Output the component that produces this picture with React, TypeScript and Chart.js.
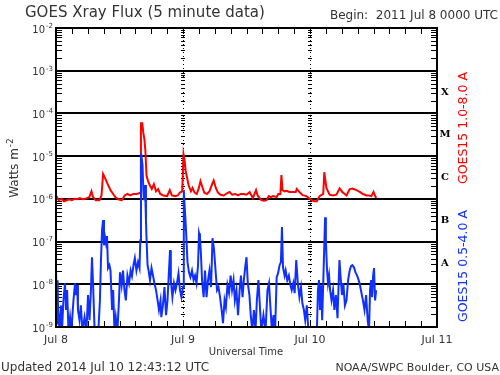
import React, { useEffect, useRef } from 'react';
import { Chart, registerables } from 'chart.js';

Chart.register(...registerables);

// ---- Data (hours since 2011 Jul 8 00:00 UTC, flux in W m^-2) ----
const redHours = [0,0.5,1,1.5,2,2.5,3,3.5,4,4.5,5,5.5,6.3,6.7,7.0,7.5,8.2,8.6,8.9,9.3,9.7,10.3,10.8,11.2,11.8,12.4,13,13.5,14,14.6,15.2,15.7,15.95,16.05,16.3,16.5,16.7,16.9,17.1,17.4,17.7,18.1,18.5,18.9,19.3,19.7,20.3,21,21.5,21.9,22.5,23,23.4,23.85,24.1,24.3,24.5,24.8,25.1,25.5,25.8,26.2,26.6,27.0,27.3,27.6,28.0,28.5,29.0,29.5,29.8,30.2,30.6,31.1,31.7,32.3,32.8,33.3,33.9,34.4,34.9,35.5,36.0,36.6,37.2,37.8,38.1,38.5,38.8,39.3,39.8,40.2,40.6,41.0,41.7,42.0,42.4,42.6,42.8,43.2,43.6,44.1,44.7,45.3,45.5,46.0,46.6,47.3,47.8,48.3,48.8,49.3,49.8,50.5,50.7,51.1,51.7,52.3,53.0,53.6,54.1,54.9,55.5,56.0,56.8,57.4,58.0,58.7,59.2,59.6,60.0,60.4,60.6];
const redFlux = [1.2e-6,9.3e-7,1.0e-6,8.8e-7,9.3e-7,9.8e-7,9.3e-7,1.0e-6,9.8e-7,1.04e-6,9.8e-7,1.0e-6,1.1e-6,1.5e-6,1.1e-6,9.3e-7,9.3e-7,1.2e-6,3.8e-6,3.0e-6,2.3e-6,1.6e-6,1.3e-6,1.1e-6,9.8e-7,9.3e-7,1.2e-6,1.3e-6,1.2e-6,1.3e-6,1.3e-6,1.35e-6,1.4e-6,5.9e-5,5.9e-5,3.5e-5,2.5e-5,1.3e-5,3.5e-6,2.6e-6,2.1e-6,1.7e-6,2.2e-6,1.5e-6,1.7e-6,1.3e-6,1.2e-6,1.16e-6,1.6e-6,1.2e-6,1.16e-6,1.2e-6,1.4e-6,1.5e-6,1.1e-5,8e-6,4.5e-6,3e-6,2e-6,1.5e-6,1.8e-6,1.4e-6,1.3e-6,1.8e-6,2.6e-6,2.0e-6,1.4e-6,1.3e-6,1.5e-6,2.2e-6,2.7e-6,1.8e-6,1.4e-6,1.25e-6,1.2e-6,1.35e-6,1.45e-6,1.25e-6,1.3e-6,1.2e-6,1.3e-6,1.3e-6,1.25e-6,1.45e-6,1.04e-6,1.6e-6,1.2e-6,1.04e-6,9.3e-7,9.0e-7,9.3e-7,1.16e-6,1.1e-6,1.16e-6,1.1e-6,1.3e-6,1.3e-6,3.6e-6,1.6e-6,1.5e-6,1.55e-6,1.45e-6,1.45e-6,1.45e-6,1.7e-6,1.44e-6,1.22e-6,1.16e-6,1.04e-6,9.3e-7,8.8e-7,8.8e-7,1.16e-6,1.3e-6,4.2e-6,1.8e-6,1.25e-6,1.2e-6,1.25e-6,1.75e-6,1.45e-6,1.2e-6,1.7e-6,1.75e-6,1.6e-6,1.45e-6,1.3e-6,1.2e-6,1.2e-6,1.16e-6,1.45e-6,1.1e-6,1.1e-6];

const blueHours = [0.0,0.2,0.3,0.4,0.66,0.95,1.13,1.4,1.7,1.9,2.1,2.36,2.65,2.9,3.3,3.6,3.8,4.0,4.15,4.44,4.7,5.0,5.4,5.76,6.05,6.33,6.6,6.8,7.0,7.3,7.65,8.0,8.3,8.5,8.7,8.9,9.07,9.26,9.45,9.64,9.83,10.1,10.3,10.6,10.8,11.05,11.3,11.6,11.9,12.1,12.4,12.66,12.94,13.2,13.5,13.8,14.1,14.36,14.64,14.9,15.2,15.5,15.78,15.93,16.06,16.2,16.35,16.5,16.63,16.82,17.0,17.1,17.3,17.5,17.76,18.05,18.33,18.6,18.9,19.2,19.46,19.75,19.9,20.2,20.5,20.8,21.07,21.35,21.55,21.7,22.0,22.3,22.58,22.86,23.15,23.43,23.7,24.0,24.15,24.28,24.47,24.66,24.85,25.13,25.4,25.7,26.0,26.27,26.55,26.84,27.03,27.2,27.4,27.6,27.9,28.16,28.45,28.73,29.0,29.3,29.58,29.87,30.15,30.43,30.7,31.0,31.3,31.56,31.85,32.1,32.4,32.7,33.0,33.27,33.55,33.8,34.1,34.4,34.7,34.95,35.25,35.5,35.8,36.0,36.25,36.55,36.8,37.1,37.4,37.7,37.96,38.25,38.5,38.8,39.2,39.6,39.96,40.25,40.5,40.8,41.1,41.4,41.7,41.96,42.25,42.5,42.7,42.9,43.2,43.4,43.7,44.0,44.3,44.55,44.85,45.1,45.4,45.7,46.0,46.3,46.56,46.85,47.1,47.4,47.7,48.1,48.5,48.85,49.3,49.5,49.7,49.9,50.1,50.3,50.5,50.65,50.85,51.0,51.2,51.4,51.6,51.8,52.07,52.36,52.6,52.9,53.2,53.4,53.57,53.76,54.05,54.3,54.6,54.9,55.2,55.5,55.75,56.0,56.3,56.6,56.9,57.2,57.45,57.7,58.0,58.3,58.6,58.9,59.15,59.35,59.55,59.74,59.93,60.1,60.3,60.5];
const blueFlux = [2.4e-8,1.2e-9,1.25e-8,2.5e-9,8e-10,3.2e-9,8e-10,4.2e-9,1.06e-8,2.5e-9,7.3e-9,8e-10,1.7e-9,8e-10,4.2e-9,1.06e-8,5.6e-9,9.6e-9,2.5e-9,1.44e-9,3.2e-9,8e-10,1.7e-9,8e-10,5.6e-9,1.44e-9,7.3e-9,4.3e-8,1.06e-8,8e-10,8e-10,8e-10,4.2e-9,3.7e-8,1.85e-7,3.2e-7,8.2e-8,1.27e-7,9.2e-8,1.34e-7,2.4e-8,2.8e-8,2.1e-8,2.5e-9,7.3e-9,8e-10,1.7e-9,8e-10,4.2e-9,1.9e-8,9.5e-9,2.1e-8,7.3e-9,4.2e-9,1.6e-8,1.06e-8,2.1e-8,1.55e-8,2.8e-8,4.1e-8,2.1e-8,3.3e-8,2.4e-8,1.08e-7,1.17e-5,9e-6,6.1e-6,1.6e-6,9.3e-7,2.1e-6,3.2e-7,1.27e-7,2.8e-8,2.1e-8,1.25e-8,2.4e-8,1.6e-8,1.06e-8,7.3e-9,4.2e-9,2.5e-9,4.2e-9,1.7e-9,3.2e-9,8.6e-9,1.9e-9,4.2e-9,2.1e-8,6.3e-8,1.25e-8,5e-9,1.06e-8,7.3e-9,1.06e-8,1.8e-8,7.3e-9,5e-9,8.6e-9,1.6e-6,7.9e-7,3.2e-7,1.08e-7,3.3e-8,1.9e-8,1.47e-8,2.1e-8,1.25e-8,1.6e-8,1.06e-8,2.8e-8,1.57e-7,1.27e-7,4.8e-8,1.25e-8,5e-9,2.1e-8,5e-9,1.25e-8,2.1e-8,8.6e-9,1.2e-7,6.3e-8,2.1e-8,7.3e-9,8.6e-9,5e-9,2.5e-9,1.23e-9,4.2e-9,2.9e-9,9.5e-9,6.2e-9,1.6e-8,7.3e-9,1.25e-8,4.2e-9,7.3e-9,1.9e-9,7.3e-9,1.6e-8,5e-9,1.25e-8,2.8e-8,4.3e-8,1.06e-8,5.6e-9,1.9e-9,8e-10,2.5e-9,8e-10,4.2e-9,1.25e-8,3.6e-9,8e-10,1.9e-9,8e-10,7.3e-9,1.06e-8,3.2e-9,8e-10,1.9e-9,8e-10,1.47e-8,1.8e-8,2.8e-8,3.3e-8,2.2e-7,2.5e-8,1.6e-8,2.1e-8,1.25e-8,1.6e-8,9.5e-9,7.3e-9,1.06e-8,6.2e-9,3.7e-8,1.06e-8,5e-9,8.6e-9,3.6e-9,2.5e-9,1.44e-9,3.2e-9,8e-10,8e-10,8e-10,8e-10,8e-10,7.3e-9,1.25e-8,2.5e-9,9.5e-9,1.44e-9,1.06e-8,4.8e-8,3.7e-7,1.08e-7,2.4e-8,1.06e-8,1.6e-8,7.3e-9,4.2e-9,7.3e-9,2.5e-9,5.6e-9,1.6e-9,9.5e-9,3.7e-8,1.6e-8,5.6e-9,1.06e-8,3.2e-9,4.2e-9,1.25e-8,2.1e-8,2.65e-8,2.8e-8,2.5e-8,1.9e-8,1.6e-8,1.25e-8,9.5e-9,6.5e-9,4.2e-9,2.5e-9,5.6e-9,1.44e-9,8e-10,7.3e-9,1.25e-8,5e-9,1.6e-8,2.4e-8,4.2e-9,7.3e-9];

// ---- Axis / text content ----
const dayLabels = ['Jul 8', 'Jul 9', 'Jul 10', 'Jul 11'];
const dayHours = [0, 24, 48, 72];
const decadeExps = [-2, -3, -4, -5, -6, -7, -8, -9];
const gridExps = [-3, -4, -5, -6, -7, -8];
const classLabels = ['X', 'M', 'C', 'B', 'A'];
const classExps = [-3.5, -4.5, -5.5, -6.5, -7.5];
const titleText = 'GOES Xray Flux (5 minute data)';
const beginText = 'Begin:  2011 Jul 8 0000 UTC';
const xTitle = 'Universal Time';
const updatedText = 'Updated 2014 Jul 10 12:43:12 UTC';
const creditText = 'NOAA/SWPC Boulder, CO USA';
const longLabel = 'GOES15 1.0-8.0 A';
const shortLabel = 'GOES15 0.5-4.0 A';

const FONT = '"DejaVu Sans", sans-serif';
const TXT = '#333';

function drawSup(ctx: CanvasRenderingContext2D, base: string, sup: string, x: number, y: number, bs: number, ss: number, align: 'left' | 'right' | 'center') {
  ctx.font = `${bs}px ${FONT}`;
  const wb = ctx.measureText(base).width;
  ctx.font = `${ss}px ${FONT}`;
  const ws = ctx.measureText(sup).width;
  const total = wb + ws + 1;
  let x0 = x;
  if (align === 'right') x0 = x - total;
  else if (align === 'center') x0 = x - total / 2;
  ctx.textAlign = 'left';
  ctx.textBaseline = 'middle';
  ctx.font = `${bs}px ${FONT}`;
  ctx.fillText(base, x0, y);
  ctx.font = `${ss}px ${FONT}`;
  ctx.fillText(sup, x0 + wb + 1, y - bs * 0.4);
}

const framePlugin = {
  id: 'goesFrame',
  beforeDatasetsDraw(chart: any) {
    const { ctx, chartArea: a, scales } = chart;
    const xs = scales.x;
    const ys = scales.y;
    ctx.save();
    ctx.strokeStyle = '#000';
    // horizontal decade lines
    ctx.lineWidth = 2;
    for (const e of gridExps) {
      const py = Math.round(ys.getPixelForValue(Math.pow(10, e)));
      ctx.beginPath();
      ctx.moveTo(a.left, py);
      ctx.lineTo(a.right, py);
      ctx.stroke();
    }
    // minor log ticks on left/right and at day boundaries
    ctx.lineWidth = 1;
    for (let d = -9; d < -2; d++) {
      for (let k = 2; k <= 9; k++) {
        const py = Math.round(ys.getPixelForValue(k * Math.pow(10, d))) + 0.5;
        ctx.beginPath();
        ctx.moveTo(a.left, py); ctx.lineTo(a.left + 6, py);
        ctx.moveTo(a.right - 6, py); ctx.lineTo(a.right, py);
        for (const h of [24, 48]) {
          const px = Math.round(xs.getPixelForValue(h));
          ctx.moveTo(px - 2, py); ctx.lineTo(px + 2, py);
        }
        ctx.stroke();
      }
    }
    // dotted day-boundary lines
    ctx.setLineDash([1, 3]);
    for (const h of [24, 48]) {
      const px = Math.round(xs.getPixelForValue(h)) + 0.5;
      ctx.beginPath();
      ctx.moveTo(px, a.top); ctx.lineTo(px, a.bottom);
      ctx.stroke();
    }
    ctx.setLineDash([]);
    // 3-hour ticks on top & bottom
    for (let h = 3; h < 72; h += 3) {
      const px = Math.round(xs.getPixelForValue(h)) + 0.5;
      ctx.beginPath();
      ctx.moveTo(px, a.top); ctx.lineTo(px, a.top + 6);
      ctx.moveTo(px, a.bottom); ctx.lineTo(px, a.bottom - 6);
      ctx.stroke();
    }
    ctx.restore();
  },
  afterDraw(chart: any) {
    const { ctx, chartArea: a, scales } = chart;
    const xs = scales.x;
    const ys = scales.y;
    ctx.save();
    // frame
    ctx.strokeStyle = '#000';
    ctx.lineWidth = 2;
    ctx.strokeRect(a.left, a.top, a.right - a.left, a.bottom - a.top);

    ctx.fillStyle = TXT;
    // title
    ctx.textBaseline = 'middle';
    ctx.textAlign = 'left';
    ctx.font = `15px ${FONT}`;
    ctx.fillText(titleText, 25, 13);
    ctx.font = `12px ${FONT}`;
    ctx.textAlign = 'right';
    ctx.fillText(beginText, 498, 16);

    // left tick labels
    for (const e of decadeExps) {
      const py = ys.getPixelForValue(Math.pow(10, e));
      drawSup(ctx, '10', String(e), 53, py + 2, 10, 7, 'right');
    }
    // y title
    ctx.save();
    ctx.translate(15, 168);
    ctx.rotate(-Math.PI / 2);
    drawSup(ctx, 'Watts m', '-2', 0, 0, 12, 9, 'center');
    ctx.restore();

    // class letters
    ctx.fillStyle = '#000';
    ctx.font = `bold 10px "DejaVu Serif", serif`;
    ctx.textAlign = 'center';
    ctx.textBaseline = 'middle';
    classLabels.forEach((c, i) => {
      ctx.fillText(c, 445, ys.getPixelForValue(Math.pow(10, classExps[i])));
    });

    // series labels
    ctx.font = `12.5px ${FONT}`;
    ctx.save();
    ctx.translate(464, 128);
    ctx.rotate(-Math.PI / 2);
    ctx.fillStyle = '#ff0000';
    ctx.fillText(longLabel, 0, 0);
    ctx.restore();
    ctx.save();
    ctx.translate(464, 266);
    ctx.rotate(-Math.PI / 2);
    ctx.fillStyle = '#1030ff';
    ctx.fillText(shortLabel, 0, 0);
    ctx.restore();

    // x labels
    ctx.fillStyle = TXT;
    ctx.font = `11px ${FONT}`;
    dayLabels.forEach((l, i) => {
      ctx.fillText(l, xs.getPixelForValue(dayHours[i]), 340);
    });
    ctx.font = `10px ${FONT}`;
    ctx.fillText(xTitle, 246, 352);

    ctx.font = `12px ${FONT}`;
    ctx.textAlign = 'left';
    ctx.fillText(updatedText, 1, 368);
    ctx.font = `11px ${FONT}`;
    ctx.textAlign = 'right';
    ctx.fillText(creditText, 499, 368);
    ctx.restore();
  },
};

export default function App() {
  const ref = useRef<HTMLCanvasElement | null>(null);
  useEffect(() => {
    if (!ref.current) return;
    const chart = new Chart(ref.current, {
      type: 'line',
      data: {
        datasets: [
          {
            label: shortLabel,
            data: blueHours.map((h, i) => ({ x: h, y: blueFlux[i] })),
            borderColor: '#1030ff',
            borderWidth: 2,
            pointRadius: 0,
            tension: 0,
            fill: false,
            order: 0,
          },
          {
            label: longLabel,
            data: redHours.map((h, i) => ({ x: h, y: redFlux[i] })),
            borderColor: '#ff0000',
            borderWidth: 2,
            pointRadius: 0,
            tension: 0,
            fill: false,
            order: 1,
          },
        ],
      },
      options: {
        animation: false,
        responsive: false,
        devicePixelRatio: 1,
        layout: { padding: { left: 56, right: 63, top: 28, bottom: 48 } },
        plugins: { legend: { display: false }, tooltip: { enabled: false } },
        scales: {
          x: { type: 'linear', min: 0, max: 72, display: false },
          y: { type: 'logarithmic', min: 1e-9, max: 1e-2, display: false },
        },
      },
      plugins: [framePlugin],
    } as any);
    return () => chart.destroy();
  }, []);
  return (
    <div style={{ position: 'absolute', left: 0, top: 0, width: 500, height: 375, background: '#fff' }}>
      <canvas ref={ref} width={500} height={375} style={{ display: 'block', width: 500, height: 375 }} />
    </div>
  );
}
